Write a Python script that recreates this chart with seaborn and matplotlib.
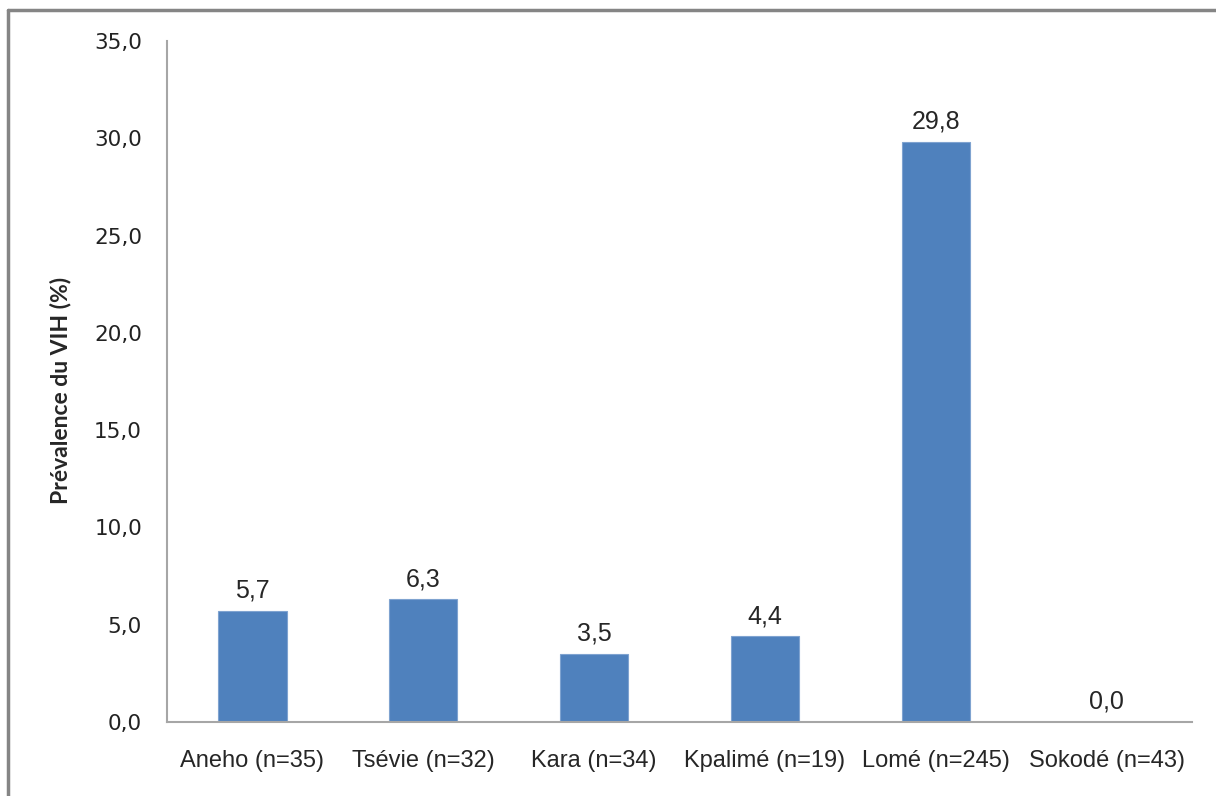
import pandas as pd
import matplotlib
matplotlib.use('Agg')
import matplotlib.pyplot as plt
from matplotlib.lines import Line2D
from matplotlib.ticker import FuncFormatter
import seaborn as sns

# Data
sites = ['Aneho (n=35)', 'Tsévie (n=32)', 'Kara (n=34)', 'Kpalimé (n=19)', 'Lomé (n=245)', 'Sokodé (n=43)']
prevalence = [5.7, 6.3, 3.5, 4.4, 29.8, 0.0]

df = pd.DataFrame({'site': sites, 'prev': prevalence})

sns.set_style('white')
plt.rcParams['font.family'] = ['DejaVu Sans']

fig = plt.figure(figsize=(12.16, 7.96), dpi=100)
ax = fig.add_axes([0.1373, 0.093, 0.8430, 0.8555])

sns.barplot(data=df, x='site', y='prev', color='#4F81BD', saturation=1,
            width=0.4, edgecolor='#7FA3D0', linewidth=0.8, ax=ax)

ax.set_ylim(0, 35)
ax.set_yticks(range(0, 36, 5))
ax.yaxis.set_major_formatter(FuncFormatter(lambda v, p: f'{v:.1f}'.replace('.', ',')))
ax.set_xlim(-0.5, len(sites) - 0.5)

# labels on top of the bars
for cont in ax.containers:
    ax.bar_label(cont, labels=[f'{v:.1f}'.replace('.', ',') for v in prevalence],
                 padding=6, fontsize=18, family='Liberation Sans')

ax.set_xlabel('')
ax.set_ylabel('Prévalence du VIH (%)', fontsize=16.5, fontweight='bold',
              family='Lato', labelpad=16)
ax.yaxis.label.set_y(0.487)

ax.tick_params(axis='y', length=0, pad=18, labelsize=15.5, labelcolor='#222222')
ax.tick_params(axis='x', length=0, pad=20, labelsize=17)
for lbl in ax.get_xticklabels():
    lbl.set_family('Liberation Sans')
for lbl in ax.get_yticklabels():
    lbl.set_family('DejaVu Sans')

sns.despine(ax=ax, top=True, right=True)
for side in ['left', 'bottom']:
    ax.spines[side].set_color('#A6A6A6')
    ax.spines[side].set_linewidth(1.5)

# outer frame (top and left edges visible in the reference)
fig.add_artist(Line2D([0.0066, 1.0], [0.9874, 0.9874], transform=fig.transFigure,
                      color='#858585', linewidth=2.5))
fig.add_artist(Line2D([0.0066, 0.0066], [0.0, 0.9874], transform=fig.transFigure,
                      color='#858585', linewidth=2.5))

fig.savefig('out.png', dpi=100)
